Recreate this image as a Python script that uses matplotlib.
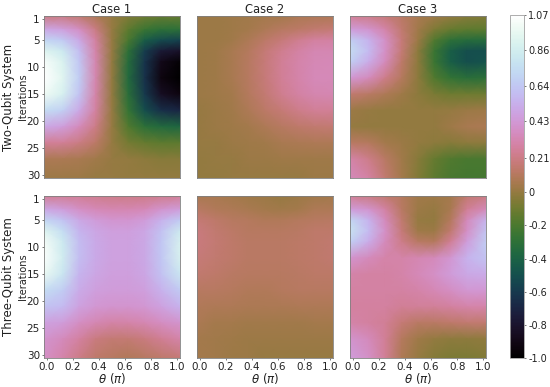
import numpy as np
import matplotlib
matplotlib.use("Agg")
import matplotlib.pyplot as plt

theta = [-.02, .125, .25, .375, .5, .625, .75, .875, 1.02]
iters = [0.5, 3, 5, 7, 9, 12, 15, 18, 21, 24, 27, 30.5]
titles = ["Case 1", "Case 2", "Case 3"]
row_labels = ["Two-Qubit System", "Three-Qubit System"]
y_ticks = [1, 5, 10, 15, 20, 25, 30]
x_ticks = [0.0, 0.2, 0.4, 0.6, 0.8, 1.0]
cb_ticks = [1.07, .86, .64, .43, .21, 0, -.2, -.4, -.6, -.8, -1.0]
cb_labels = ["1.07", "0.86", "0.64", "0.43", "0.21", "0", "-0.2", "-0.4", "-0.6", "-0.8", "-1.0"]

two_case1 = [
    [.2, .2, .15, .08, .01, -.05, -.1, -.12, -.12],
    [.5, .46, .37, .2, .01, -.15, -.25, -.3, -.3],
    [.72, .65, .5, .27, .01, -.2, -.42, -.52, -.56],
    [.92, .82, .6, .3, .01, -.3, -.58, -.76, -.82],
    [1.03, .9, .64, .31, .0, -.33, -.62, -.88, -.97],
    [1.07, .93, .66, .31, .0, -.35, -.64, -.92, -1.0],
    [1.0, .88, .62, .3, .0, -.32, -.6, -.84, -.92],
    [.75, .68, .5, .27, .01, -.27, -.5, -.65, -.7],
    [.5, .45, .35, .21, .01, -.18, -.3, -.35, -.37],
    [.25, .25, .2, .13, .01, -.08, -.12, -.15, -.15],
    [.07, .07, .06, .04, .01, 0, -.02, -.03, -.03],
    [.02, .02, .02, .01, .01, 0, 0, 0, 0],
]
two_case2 = [
    [.02, .02, .03, .04, .05, .05, .07, .08, .08],
    [.02, .02, .03, .05, .08, .11, .13, .15, .17],
    [.02, .02, .04, .08, .13, .18, .23, .27, .28],
    [.02, .03, .06, .1, .17, .23, .28, .32, .32],
    [.02, .03, .06, .11, .18, .25, .3, .33, .34],
    [.02, .03, .06, .11, .18, .25, .3, .34, .34],
    [.02, .03, .05, .1, .16, .23, .28, .31, .32],
    [.01, .02, .04, .08, .13, .17, .22, .25, .25],
    [.01, .02, .03, .05, .08, .11, .14, .15, .16],
    [.01, .01, .02, .03, .04, .06, .07, .08, .08],
    [0, .01, .01, .02, .02, .03, .03, .03, .03],
    [0, 0, .01, .01, .01, .01, .01, .02, .02],
]
two_case3 = [
    [.25, .22, .18, .12, .06, .03, 0, -.03, -.05],
    [.45, .4, .3, .15, .04, -.06, -.12, -.15, -.15],
    [.68, .55, .38, .18, .02, -.18, -.3, -.33, -.33],
    [.75, .58, .38, .17, -.02, -.25, -.42, -.5, -.5],
    [.68, .52, .35, .14, -.02, -.25, -.42, -.5, -.48],
    [.42, .35, .22, .1, -.02, -.18, -.28, -.32, -.3],
    [.15, .12, .08, .03, -.02, -.07, -.1, -.1, -.1],
    [.02, .01, 0, 0, 0, 0, .01, .02, .03],
    [.01, 0, 0, 0, 0, 0, .03, .06, .07],
    [.12, .1, .05, .02, 0, -.02, -.03, -.02, -.02],
    [.3, .22, .12, .04, -.03, -.12, -.18, -.2, -.2],
    [.35, .28, .15, .05, -.05, -.15, -.2, -.22, -.22],
]
three_case1 = [
    [.25, .25, .25, .23, .22, .22, .22, .23, .25],
    [.5, .45, .38, .34, .32, .32, .34, .4, .45],
    [.72, .62, .5, .44, .41, .41, .44, .54, .65],
    [.92, .75, .56, .49, .46, .46, .49, .61, .82],
    [1.02, .82, .59, .51, .47, .47, .5, .64, .88],
    [1.05, .85, .6, .51, .47, .47, .5, .64, .88],
    [.98, .8, .56, .49, .46, .46, .49, .61, .8],
    [.75, .66, .52, .46, .44, .44, .46, .54, .65],
    [.62, .58, .47, .42, .4, .4, .42, .47, .55],
    [.47, .44, .37, .32, .29, .3, .32, .36, .4],
    [.4, .35, .27, .19, .16, .16, .19, .24, .3],
    [.38, .3, .21, .14, .11, .09, .11, .14, .17],
]
three_case2 = [
    [.06, .06, .05, .03, .02, .01, .02, .04, .05],
    [.12, .09, .08, .06, .05, .04, .05, .08, .08],
    [.17, .14, .11, .1, .09, .09, .1, .11, .12],
    [.19, .15, .13, .11, .11, .11, .12, .14, .14],
    [.19, .16, .14, .12, .12, .12, .13, .14, .15],
    [.18, .15, .14, .12, .12, .12, .13, .14, .15],
    [.15, .14, .12, .11, .11, .11, .12, .13, .13],
    [.11, .11, .1, .09, .09, .1, .11, .11, .11],
    [.09, .08, .08, .07, .07, .07, .08, .08, .08],
    [.07, .05, .05, .04, .04, .04, .04, .05, .05],
    [.05, .04, .03, .02, .02, .02, .02, .02, .02],
    [.05, .04, .02, .02, .01, .01, .01, .01, .01],
]
three_case3 = [
    [.25, .2, .15, .1, .04, .03, .05, .15, .2],
    [.45, .4, .28, .12, .02, .01, .06, .25, .35],
    [.72, .55, .35, .15, .01, 0, .1, .35, .55],
    [.78, .58, .38, .18, .03, .02, .15, .38, .62],
    [.68, .52, .35, .22, .12, .1, .25, .45, .66],
    [.4, .35, .3, .3, .32, .35, .42, .55, .62],
    [.3, .28, .28, .3, .34, .38, .44, .5, .52],
    [.28, .28, .28, .28, .3, .33, .37, .42, .42],
    [.27, .27, .27, .25, .26, .26, .27, .3, .3],
    [.3, .27, .25, .17, .12, .12, .14, .15, .15],
    [.4, .35, .25, .1, .03, 0, -.02, -.02, -.01],
    [.45, .38, .25, .08, .01, -.04, -.07, -.07, -.05],
]
panels = [[two_case1, two_case2, two_case3], [three_case1, three_case2, three_case3]]

W, H = 550, 387
fig = plt.figure(figsize=(W / 100, H / 100), dpi=100)
lefts = [44, 197, 350]
tops = [16, 196]
aw, ah = 136, 162
spine_c = "#808080"
mesh = None
for r, top in enumerate(tops):
    for c, left in enumerate(lefts):
        ax = fig.add_axes([left / W, 1 - (top + ah) / H, aw / W, ah / H])
        mesh = ax.pcolormesh(theta, iters, np.array(panels[r][c]), cmap="cubehelix",
                             vmin=-1.0, vmax=1.07, shading="gouraud", rasterized=True)
        ax.set_xlim(theta[0], theta[-1])
        ax.set_ylim(iters[-1], iters[0])
        for s in ax.spines.values():
            s.set_linewidth(0.6)
            s.set_color(spine_c)
        ax.tick_params(length=1.5, width=0.5, labelsize=7.5, pad=1.5, color="#444444", labelcolor="#222222")
        if c == 0:
            ax.set_yticks(y_ticks)
            ax.set_ylabel("Iterations", fontsize=7, color="#222222", va="center")
            ax.yaxis.set_label_coords((23 - left) / aw, 0.5)
            fig.text(9 / W, 1 - (top + ah / 2) / H, row_labels[r], rotation=90,
                     ha="center", va="center", fontsize=8.5, color="#222222")
        else:
            ax.set_yticks([])
        if r == 1:
            ax.set_xticks(x_ticks)
            ax.set_xticklabels([f"{t:.1f}" for t in x_ticks])
            ax.set_xlabel(r"$\theta\ (\pi)$", fontsize=8.5, color="#222222")
            ax.xaxis.set_label_coords(0.5, -(378 - (top + ah)) / ah)
            ax.xaxis.label.set_va("center")
        else:
            ax.set_xticks([])
            ax.set_title(titles[c], fontsize=8.3, pad=1, color="#222222")

cax = fig.add_axes([510 / W, 1 - 358 / H, 14 / W, 343 / H])
cb = fig.colorbar(mesh, cax=cax, ticks=cb_ticks)
cb.ax.set_yticklabels(cb_labels)
cb.ax.tick_params(length=1.5, width=0.5, labelsize=7, pad=1.5, color="#444444", labelcolor="#222222")
cb.outline.set_linewidth(0.6)
cb.outline.set_edgecolor("#a0a0a0")
fig.savefig("out.png", dpi=100)
